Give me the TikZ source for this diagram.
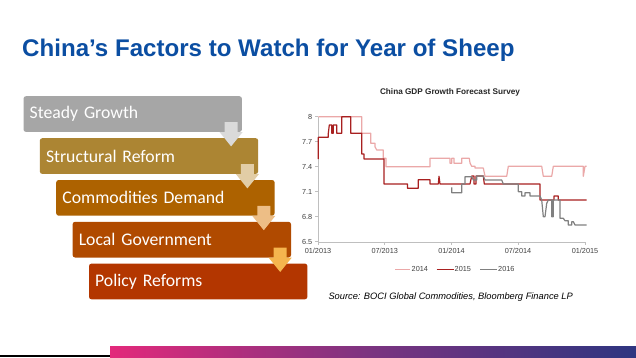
\documentclass[tikz,border=0pt]{standalone}
\usepackage{fontspec}
\setmainfont{Liberation Sans}
\newfontfamily\calibrifont{Carlito}
\usetikzlibrary{calc}
\definecolor{titleblue}{HTML}{0B4EA2}
\definecolor{boxA}{HTML}{A6A6A6}
\definecolor{boxB}{HTML}{AC8533}
\definecolor{boxC}{HTML}{AD6200}
\definecolor{boxD}{HTML}{B04A00}
\definecolor{boxE}{HTML}{B33600}
\definecolor{arrA}{HTML}{DADADA}
\definecolor{arrB}{HTML}{E2CDA6}
\definecolor{arrC}{HTML}{EDBE86}
\definecolor{arrD}{HTML}{F5B54E}
\definecolor{axisgray}{HTML}{BFBFBF}
\definecolor{labelgray}{HTML}{404040}
\definecolor{serA}{HTML}{EBA8A8}
\definecolor{serB}{HTML}{A82020}
\definecolor{serC}{HTML}{808080}
\definecolor{barL}{HTML}{E3297B}
\definecolor{barM}{HTML}{7A3480}
\definecolor{barR}{HTML}{2E3580}
\begin{document}
\begin{tikzpicture}[x=1pt,y=-1pt,
  stepbox/.style={anchor=north west, rounded corners=2.5pt, minimum width=218.4pt, minimum height=35.7pt,
    text width=206pt, inner xsep=6pt, align=left, text=white, font=\calibrifont\fontsize{17.7}{20}\selectfont},
  ticklabel/.style={font=\fontsize{7.3}{8.5}\selectfont, text=labelgray, inner sep=0pt},
  axisline/.style={draw=axisgray, line width=0.7pt},
  series/.style={line width=1.2pt, line join=round},
  downarrow/.pic={\fill[#1] (-6.5,0) -- (6.5,0) -- (6.5,10) -- (11.5,10) -- (0,24.3) -- (-11.5,10) -- (-6.5,10) -- cycle;}
]
\useasboundingbox (0,0) rectangle (636,358);
\fill[white] (0,0) rectangle (636,358);

% title
\node[anchor=base west, inner sep=0pt, text=titleblue, font=\bfseries\fontsize{24.1}{28}\selectfont] (title) at (22,57) {China’s Factors to Watch for Year of Sheep};

% step boxes
\node[stepbox, fill=boxA] (b1) at (23.3,96) {Steady Growth};
\node[stepbox, fill=boxB] (b2) at (39.6,138) {Structural Reform};
\node[stepbox, fill=boxC] (b3) at (56,179.8) {Commodities Demand};
\node[stepbox, fill=boxD] (b4) at (72.4,221.6) {Local Government};
\node[stepbox, fill=boxE] (b5) at (88.8,263.4) {Policy Reforms};

\pic at ($(b1.south east)+(-11,-10)$) {downarrow=arrA};
\pic at ($(b2.south east)+(-11,-10)$) {downarrow=arrB};
\pic at ($(b3.south east)+(-11,-10)$) {downarrow=arrC};
\pic at ($(b4.south east)+(-11,-10)$) {downarrow=arrD};

% chart
\node[font=\bfseries\fontsize{8.2}{10}\selectfont, text=black!85] (ctitle) at (450,92) {China GDP Growth Forecast Survey};

\draw[axisline] (318,116.7) -- (318,242) -- (585,242);
\foreach \v/\yy in {8/116.7,7.7/141.7,7.4/166.7,7.1/191.7,6.8/216.7,6.5/241.7}{
  \draw[axisline] (315,\yy) -- (318,\yy);
  \node[ticklabel, anchor=east] at (312.5,\yy) {\v};
}
\foreach \lab/\xx in {{01/2013}/318,{07/2013}/384.7,{01/2014}/451.5,{07/2014}/518,{01/2015}/585}{
  \draw[axisline] (\xx,242) -- (\xx,245);
  \node[ticklabel, anchor=north] at (\xx,248) {\lab};
}

% 2014
\draw[series, serA] (318.3,116.7) -- (361.7,116.7) -- (361.7,133.3) -- (370.7,133.3) -- (370.7,143.3) -- (375,143.3) -- (375,146.7) -- (376.7,150) -- (383.3,150) -- (383.3,158.3) -- (386,158.3) -- (386,166.7) -- (430,166.7) -- (430,158.3) -- (450,158.3) -- (450,163.3) -- (451.7,163.3) -- (451.7,158.3) -- (454,158.3) -- (454,163.3) -- (461.7,163.3) -- (461.7,158.3) -- (469.3,158.3) -- (470,163) -- (471.7,166.3) -- (475,166.3) -- (475,168) -- (483.3,168) -- (485,176.3) -- (506.7,176.3) -- (508.3,166.3) -- (541.7,166.3) -- (543.3,176.3) -- (551.7,176.3) -- (553.3,166.3) -- (583.3,166.3) -- (583.3,176.3) -- (585,166.3) -- (586.7,166.3);

% 2015
\draw[series, serB] (318.3,159) -- (318.3,137.3) -- (328.3,137.3) -- (328.3,133.3) -- (329.3,125) -- (331.7,125) -- (331.7,133.3) -- (333.3,133.3) -- (333.3,125) -- (336.7,125) -- (336.7,133.3) -- (341.7,133.3) -- (341.7,116.7) -- (350.7,116.7) -- (350.7,133.3) -- (361.7,133.3) -- (361.7,154) -- (364,154) -- (364,159) -- (384,159) -- (384,184) -- (407.5,184) -- (407.5,188.3) -- (418.3,188.3) -- (418.3,179.7) -- (430,179.7) -- (430,184) -- (438.3,184) -- (439,176.3) -- (440,184) -- (470,184) -- (471.7,176) -- (474,176) -- (474,184) -- (476,184) -- (476,176) -- (483.3,176) -- (484.3,184) -- (540,184) -- (540,200) -- (554,200) -- (554,196) -- (558.3,196) -- (558.3,200) -- (586.7,200);

% 2016
\draw[series, serC] (451.7,187.3) -- (451.7,192.7) -- (461.7,192.7) -- (461.7,184) -- (465,184) -- (465,176.7) -- (471.7,176.7) -- (473.3,180) -- (476.7,180) -- (476.7,176) -- (483.3,176) -- (485,180) -- (501.7,180) -- (503.3,184) -- (518.3,184) -- (518.3,191.7) -- (521.7,191.7) -- (521.7,196) -- (525,196) -- (525,192.7) -- (530,192.7) -- (530,196) -- (540,196) -- (541.7,200) -- (543.3,216.7) -- (545,216.7) -- (546.7,203.3) -- (548.3,200) -- (551.7,200) -- (551.7,216.7) -- (553.3,216.7) -- (553.3,200) -- (560,200) -- (560,218.3) -- (563.3,218.3) -- (565,220.7) -- (568.3,220.7) -- (568.3,225) -- (571.7,225) -- (571.7,221.7) -- (573.3,221.7) -- (575,225) -- (586.7,225);

% legend
\draw[series, serA] (395,269.3) -- (410,269.3);
\node[ticklabel, anchor=west] (l1) at (411.5,269.3) {2014};
\draw[series, serB] (436.7,269.3) -- (454,269.3);
\node[ticklabel, anchor=west] (l2) at (454.5,269.3) {2015};
\draw[series, serC] (480,269.3) -- (497.3,269.3);
\node[ticklabel, anchor=west] (l3) at (498,269.3) {2016};

\node[anchor=west, inner sep=0pt, font=\itshape\fontsize{9.3}{11}\selectfont] (src) at (328.3,297.3) {Source: BOCI Global Commodities, Bloomberg Finance LP};

% bottom bar
\draw[black, line width=1.3pt] (0,356) -- (112,356);
\shade[left color=barL, right color=barR, middle color=barM] (110,346) rectangle (636,357);
\end{tikzpicture}
\end{document}
